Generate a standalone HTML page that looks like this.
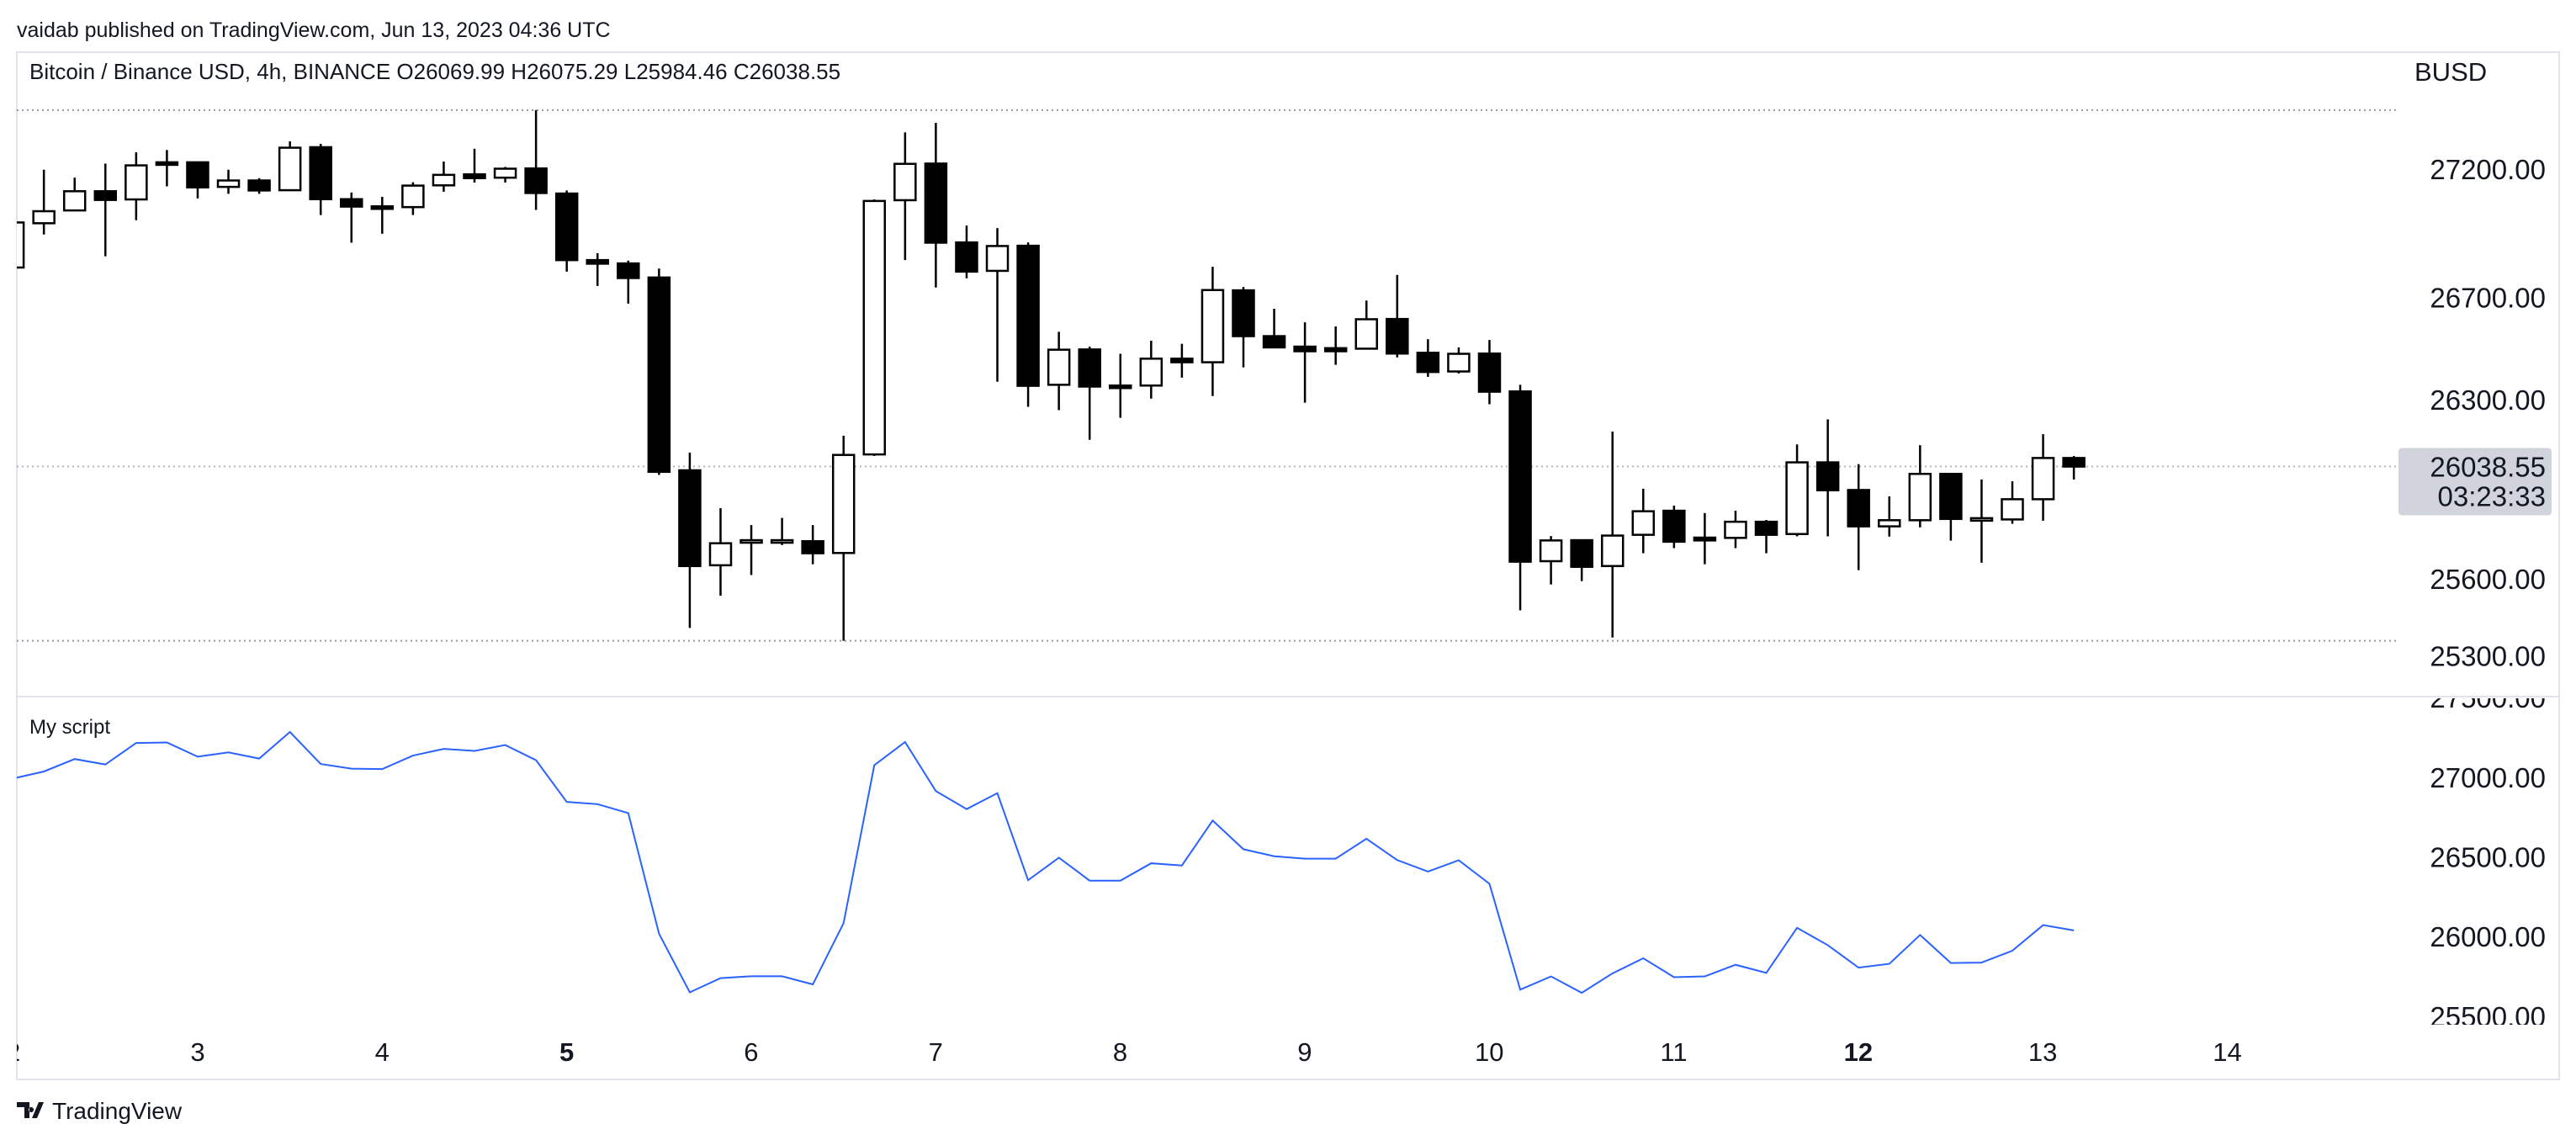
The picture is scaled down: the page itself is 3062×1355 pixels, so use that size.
<!DOCTYPE html>
<html><head><meta charset="utf-8"><style>
html,body{margin:0;padding:0;background:#fff;}
svg{display:block;font-family:"Liberation Sans",sans-serif;}
</style></head><body>
<svg id="chart" width="3062" height="1355" viewBox="0 0 3062 1355" xmlns="http://www.w3.org/2000/svg">
<defs>
<clipPath id="pc"><rect x="20" y="100" width="2831" height="727"/></clipPath>
<clipPath id="ic"><rect x="20" y="830" width="2831" height="388"/></clipPath>
<clipPath id="ac"><rect x="2851" y="830" width="211" height="388"/></clipPath>
<clipPath id="tc"><rect x="20" y="1220" width="2831" height="62"/></clipPath>
</defs>
<rect x="0" y="0" width="3062" height="1355" fill="#fff"/>
<text x="20" y="44" font-size="25" fill="#131722">vaidab published on TradingView.com, Jun 13, 2023 04:36 UTC</text>
<rect x="20" y="62" width="3022" height="1221" fill="none" stroke="#e0e3eb" stroke-width="2"/>
<line x1="20" y1="828" x2="3042" y2="828" stroke="#e0e3eb" stroke-width="2"/>
<text x="35" y="94" font-size="26" fill="#131722">Bitcoin / Binance USD, 4h, BINANCE  O26069.99  H26075.29  L25984.46  C26038.55</text>
<text x="2870" y="96" font-size="31" fill="#131722">BUSD</text>
<text x="35" y="872" font-size="24" fill="#131722">My script</text>
<g id="price" clip-path="url(#pc)"></g>
<g id="ind" clip-path="url(#ic)"></g>
<g id="paxis"></g>
<g id="iaxis" clip-path="url(#ac)"></g>
<g id="taxis" clip-path="url(#tc)"></g>
<g>
<path d="M20 1310h15v19h-6v-13h-9z M38 1329l8-19h6l-8 19z M37 1316a3 3 0 1 0 0.1 0z" fill="#131722"/>
<text x="62" y="1330" font-size="28" fill="#131722">TradingView</text>
</g>
</svg>
<script>
const opens =  [26816,26989,27039,27114,27082,27227,27227,27131,27156,27118,27286,27083,27055,27052,27137,27180,27167,27203,27105,26845,26832,26777,26024,25653,25745,25745,25747,25701,26086,27079,27222,26914,26803,26901,26358,26496,26355,26355,26460,26446,26727,26548,26507,26501,26499,26615,26483,26410,26480,26332,25669,25751,25650,25772,25866,25761,25760,25823,25775,26055,25947,25805,25829,26010,25832,25832,25911,26072];
const highs =  [27010,27198,27167,27222,27266,27275,27227,27198,27165,27309,27299,27109,27092,27149,27230,27280,27209,27431,27117,26872,26843,26812,26093,25876,25810,25838,25810,26159,27082,27344,27381,26980,26970,26914,26565,26507,26479,26530,26518,26819,26740,26655,26602,26586,26687,26787,26536,26504,26533,26358,25767,25751,26175,25952,25886,25857,25866,25830,26125,26223,26048,25922,26122,26010,25988,25981,26165,26080];
const lows =   [26790,26945,27039,26860,27001,27133,27086,27104,27104,27118,27021,26913,26948,27021,27112,27148,27148,27041,26800,26744,26675,26006,25408,25534,25615,25732,25657,25358,26080,26845,26738,26774,26370,26272,26259,26143,26229,26304,26386,26314,26426,26501,26288,26436,26499,26465,26389,26402,26282,25477,25578,25591,25371,25700,25720,25657,25720,25700,25766,25766,25634,25765,25801,25749,25663,25815,25827,25988];
const closes = [26992,27036,27114,27080,27215,27218,27129,27156,27117,27284,27083,27054,27051,27136,27178,27165,27202,27107,26845,26831,26775,26018,25650,25739,25751,25751,25700,26084,27076,27221,26913,26800,26900,26354,26495,26351,26351,26460,26446,26728,26548,26504,26489,26489,26614,26480,26408,26479,26331,25667,25750,25647,25769,25864,25745,25750,25823,25772,26055,25946,25805,25829,26010,25834,25837,25911,26072,26038.55];
const scriptValues = [26992,27036,27114,27080,27215,27218,27129,27156,27117,27284,27083,27054,27051,27136,27178,27165,27202,27107,26845,26831,26775,26018,25650,25739,25751,25751,25700,26084,27076,27221,26913,26800,26900,26354,26495,26351,26351,26460,26446,26728,26548,26504,26489,26489,26614,26480,26408,26479,26331,25667,25750,25647,25769,25864,25745,25750,25823,25772,26055,25946,25805,25829,26010,25834,25837,25911,26072,26038.55];
const priceTicks = [27200,26700,26300,25600,25300];
const priceTickLabels = ["27200.00","26700.00","26300.00","25600.00","25300.00"];
const indTicks = [27500,27000,26500,26000,25500];
const indTickLabels = ["27500.00","27000.00","26500.00","26000.00","25500.00"];
const dayTicks = [2,3,4,5,6,7,8,9,10,11,12,13,14];
const boldDays = [5,12];
const lastPrice = 26038.55;
const countdown = "03:23:33";

const NS="http://www.w3.org/2000/svg";
function mk(tag,attrs,parent){const e=document.createElementNS(NS,tag);for(const k in attrs)e.setAttribute(k,attrs[k]);parent.appendChild(e);return e;}
const xC=i=>15.6+36.56*i;
const yP=p=>475+(26300-p)*0.3043;
const yI=p=>923.8+(27000-p)*0.1894;
const xDay=d=>(8+(d-2)*112.3)*1.953;

const pg=document.getElementById('price');
const hi=Math.max(...highs), lo=Math.min(...lows);
[hi,lastPrice,lo].forEach((v,k)=>{
  const l=mk('line',{x1:20,x2:2851,y1:yP(v),y2:yP(v),stroke:k==1?'#b2b5be':'#9598a1','stroke-width':2,'stroke-dasharray':'2 4'},pg);
  
  
});
for(let i=0;i<opens.length;i++){
  const g=mk('g',{},pg);
  
  
  const x=xC(i), up=closes[i]>=opens[i];
  const top=yP(Math.max(opens[i],closes[i])), bot=yP(Math.min(opens[i],closes[i]));
  mk('line',{x1:x,x2:x,y1:yP(highs[i]),y2:top,stroke:'#000','stroke-width':2.5},g);
  mk('line',{x1:x,x2:x,y1:bot,y2:yP(lows[i]),stroke:'#000','stroke-width':2.5},g);
  const h=Math.max(bot-top,3);
  if(up) mk('rect',{x:x-12.5,y:top,width:25,height:h,fill:'#fff',stroke:'#000','stroke-width':2.5},g);
  else mk('rect',{x:x-13.75,y:top-1.25,width:27.5,height:h+2.5,fill:'#000'},g);
}
const ig=document.getElementById('ind');
const pl=mk('polyline',{points:scriptValues.map((v,i)=>xC(i)+','+yI(v)).join(' '),fill:'none',stroke:'#2962ff','stroke-width':2},ig);



const pa=document.getElementById('paxis');
priceTicks.forEach((v,k)=>{
  const t=mk('text',{x:3026,y:yP(v)+12,'font-size':33,'text-anchor':'end',fill:'#131722'},pa);
  t.textContent=priceTickLabels[k];
  
  
});
const box=mk('rect',{x:2851,y:yP(lastPrice)-22,width:182,height:80,rx:4,fill:'#d1d4dc'},pa);


const lt=mk('text',{x:3026,y:yP(lastPrice)+12,'font-size':33,'text-anchor':'end',fill:'#131722'},pa);
lt.textContent=lastPrice.toFixed(2);


const ct=mk('text',{x:3026,y:yP(lastPrice)+47,'font-size':33,'text-anchor':'end',fill:'#131722'},pa);
ct.textContent=countdown;



const ia=document.getElementById('iaxis');
indTicks.forEach((v,k)=>{
  const t=mk('text',{x:3026,y:yI(v)+12,'font-size':33,'text-anchor':'end',fill:'#131722'},ia);
  t.textContent=indTickLabels[k];
  
  
});
const ta=document.getElementById('taxis');
dayTicks.forEach(d=>{
  const t=mk('text',{x:xDay(d),y:1261,'font-size':31,'text-anchor':'middle',fill:'#131722','font-weight':boldDays.includes(d)?'bold':'normal'},ta);
  t.textContent=String(d);
  
  
});
</script>
</body></html>
